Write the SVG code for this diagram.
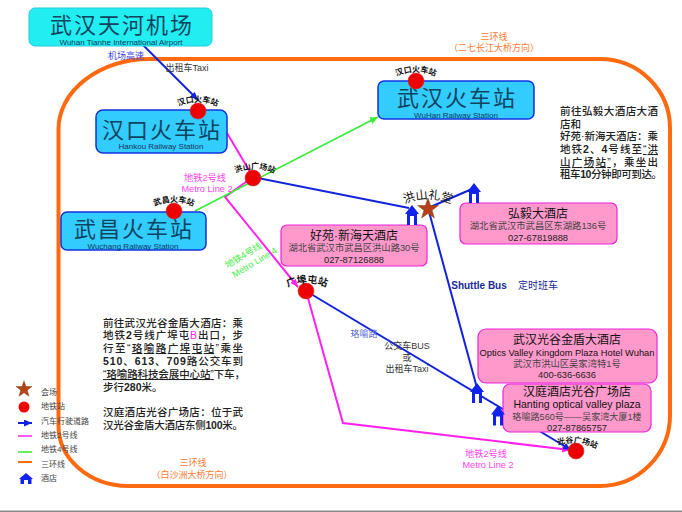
<svg xmlns="http://www.w3.org/2000/svg" width="682" height="512" viewBox="0 0 682 512">
<style>
text{font-family:"Liberation Sans","Noto Sans CJK SC",sans-serif;text-anchor:middle}
.t{font-size:22px;letter-spacing:2px;fill:#0d4560}
.e{font-size:8px;fill:#12395a}
.hd{font-size:12px;fill:#111}
.s{font-size:9.300px;fill:#444}
.ph{font-size:9.300px;fill:#222}
.b{fill:#33ccff;stroke:#1133dd;stroke-width:1.500}
.p{fill:#ff99cc;stroke:#ee22dd;stroke-width:1.200}
.m{fill:#ff44ee;font-size:9.200px}
.o{fill:#ff7a30;font-size:9px}
.st{fill:#ee0000;stroke:#cc3333;stroke-width:.6}
.sl{font-size:8px;font-weight:bold;fill:#111}
.d{font-size:10.500px;font-weight:500;fill:#222;text-anchor:start}
.bd{font-weight:bold}
.u{text-decoration:underline}
.l{font-size:8px;fill:#444;text-anchor:start}
.c{font-size:9px;fill:#333}
.bl{fill:none;stroke:#1122dd;stroke-width:2}
.ma{fill:none;stroke:#ff22ee;stroke-width:2}
.gr{fill:none;stroke:#33ee33;stroke-width:1.500}
</style>
<defs>
<marker id="ab" markerUnits="userSpaceOnUse" markerWidth="9" markerHeight="8" refX="8" refY="3.500" orient="auto"><path d="M0,0L8,3.500L0,7z" fill="#1122dd"/></marker>
<marker id="ag" markerUnits="userSpaceOnUse" markerWidth="9" markerHeight="8" refX="8" refY="3.500" orient="auto"><path d="M0,0L8,3.500L0,7z" fill="#33ee33"/></marker>
<marker id="am" markerUnits="userSpaceOnUse" markerWidth="9" markerHeight="8" refX="8" refY="3.500" orient="auto"><path d="M0,0L8,3.500L0,7z" fill="#ff22ee"/></marker>
<symbol id="house" viewBox="0 0 14 20" overflow="visible"><rect x="4" y="10" width="6" height="10" fill="#fff"/><path d="M7,0L14,9H12V20H9V11H5V20H2V9H0z" fill="#1122ee"/></symbol>
<path id="arc" d="M-21,-4Q0,-14 21,-4"/>
<path id="arc2" d="M-26,-3Q0,-15 26,-3"/>
<path id="arc3" d="M-22,-5Q0,-13 22,-1"/>
</defs>
<rect x="0" y="510.500" width="682" height="1.500" fill="#888"/>
<g id="ring3"><path d="M58.500,129A92,70 0 0 1 150,59H600A70,69 0 0 1 670,128V415A70,71 0 0 1 600,486H128A70,60 0 0 1 58.500,426Z" fill="none" stroke="#ff6a10" stroke-width="4"/></g>
<g id="connectors">
<path class="bl" d="M141,43L198,100" marker-end="url(#ab)"/>
<path class="ma" d="M227,133L253,177"/>
<path class="ma" d="M253,177L225,197L298,287" marker-end="url(#am)"/>
<path class="ma" d="M306,291L343,423L570,450" marker-end="url(#am)"/>
<path class="gr" d="M195,211L378,117" marker-end="url(#ag)"/>
<path class="bl" d="M253,177L409,208"/>
<path class="bl" d="M428,208L472,189"/>
<path class="bl" d="M428,208L477,388"/>
<path class="bl" d="M306,291L571,450" marker-end="url(#ab)"/>
</g>
<g id="airport"><rect x="29" y="8" width="183" height="38" rx="6" fill="#22eef2" stroke="#22ccdd"/><text class="t" x="122" y="33">武汉天河机场</text><text class="e" x="121" y="45">Wuhan Tianhe International Airport</text></g>
<g id="hankou"><rect class="b" x="96" y="110" width="131" height="43" rx="7"/><text class="t" x="162" y="138">汉口火车站</text><text class="e" x="161" y="149">Hankou Railway Station</text><circle class="st" cx="198" cy="111" r="8"/><text class="sl" transform="translate(198 111)"><textPath href="#arc" startOffset="50%">汉口火车站</textPath></text></g>
<g id="wuchang"><rect class="b" x="61" y="212" width="145" height="38" rx="6"/><text class="t" x="134" y="237">武昌火车站</text><text class="e" x="133" y="249">Wuchang Railway Station</text><circle class="st" cx="174" cy="211" r="8"/><text class="sl" transform="translate(174 211)"><textPath href="#arc" startOffset="50%">武昌火车站</textPath></text></g>
<g id="wuhan"><rect class="b" x="378" y="81" width="156" height="38" rx="6"/><text class="t" x="457" y="106">武汉火车站</text><text class="e" x="456" y="118">WuHan Railway Station</text><circle class="st" cx="416" cy="81" r="8"/><text class="sl" transform="translate(416 81)"><textPath href="#arc" startOffset="50%">汉口火车站</textPath></text></g>
<g id="hongshan-st"><circle class="st" cx="253" cy="178" r="8"/><text class="sl" transform="translate(255 178)"><textPath href="#arc" startOffset="50%">洪山广场站</textPath></text></g>
<g id="guangbu-st"><circle class="st" cx="306" cy="291" r="8"/><text class="sl" font-size="10" style="font-size:10px" transform="translate(307 292)"><textPath href="#arc" startOffset="50%">广埠屯站</textPath></text></g>
<g id="guanggu-st"><circle class="st" cx="576" cy="451" r="8"/><text class="sl" transform="translate(577 451)"><textPath href="#arc3" startOffset="50%">光谷广场站</textPath></text></g>
<g id="venue"><path d="M428,198l2.600,7.500h7.800l-6.300,4.800 2.300,7.700-6.400-4.600-6.400,4.600 2.300-7.700-6.300-4.800h7.800z" fill="#b5401a" stroke="#7a4a10" stroke-width=".5"/><text style="font-size:12px" fill="#111" transform="translate(428 208)"><textPath href="#arc2" startOffset="50%">洪山礼堂</textPath></text></g>
<g id="haoyuan"><rect class="p" x="281" y="225" width="146" height="41" rx="6"/><text class="hd" x="354" y="240">好苑·新海天酒店</text><text class="s" x="354" y="251">湖北省武汉市武昌区洪山路30号</text><text class="ph" x="354" y="263">027-87126888</text></g>
<g id="hongyi"><rect class="p" x="460" y="203" width="157" height="41" rx="6"/><text class="hd" x="538" y="218">弘毅大酒店</text><text class="s" x="538" y="229">湖北省武汉市武昌区东湖路136号</text><text class="ph" x="538" y="241">027-67819888</text></g>
<g id="kingdom"><rect class="p" x="478" y="329" width="179" height="54" rx="8"/><text class="hd" x="567" y="344">武汉光谷金盾大酒店</text><text x="567" y="355.500" style="font-size:9.300px" fill="#111">Optics Valley Kingdom Plaza Hotel Wuhan</text><text class="s" x="567" y="367">武汉市洪山区吴家湾特1号</text><text class="ph" x="567" y="378">400-636-6636</text></g>
<g id="hanting"><rect class="p" x="503" y="384" width="148" height="48" rx="7"/><text class="hd" x="577" y="396">汉庭酒店光谷广场店</text><text x="577" y="408" style="font-size:10.500px" fill="#111">Hanting optical valley plaza</text><text class="s" style="font-size:9.100px" x="577" y="419.500">珞喻路560号——吴家湾大厦1楼</text><text class="ph" x="577" y="431">027-87865757</text></g>
<g id="h1"><use href="#house" x="405" y="205" width="14" height="20"/></g>
<g id="h2"><use href="#house" x="467" y="183" width="14" height="20"/></g>
<g id="h3"><use href="#house" x="470" y="383" width="14" height="20"/></g>
<g id="h4"><use href="#house" x="491" y="405" width="14" height="21"/></g>
<g id="labels">
<text x="126" y="59" font-size="9" fill="#4444dd">机场高速</text>
<text class="c" x="187" y="71">出租车Taxi</text>
<text class="m" x="205" y="181">地铁2号线</text><text class="m" x="207" y="192">Metro Line 2</text>
<text x="245" y="258" font-size="9" fill="#44ee44" transform="rotate(-31 245 258)">地铁4号线</text><text x="256" y="265" font-size="9" fill="#44ee44" transform="rotate(-31 256 265)">Metro Line 4</text>
<text x="364" y="337" font-size="9" fill="#5566dd">珞喻路</text>
<text class="c" x="407" y="349">公交车BUS</text><text class="c" x="407" y="361">或</text><text class="c" x="407" y="372">出租车Taxi</text>
<text x="479" y="289" font-size="10" font-weight="bold" fill="#1a2a99">Shuttle Bus</text><text x="538" y="289" font-size="10" fill="#1a2a99">定时班车</text>
<text class="m" x="486" y="457">地铁2号线</text><text class="m" x="488" y="468">Metro Line 2</text>
<text class="o" x="494" y="40">三环线</text><text class="o" x="494" y="51">（二七长江大桥方向）</text>
<text class="o" x="193" y="466">三环线</text><text class="o" x="192" y="478">（白沙洲大桥方向）</text>
</g>
<g id="note-right">
<text class="d" x="560" y="115" textLength="98">前往弘毅大酒店大酒</text><text class="d" x="560" y="128">店和</text><text class="d" x="560" y="140" textLength="98">好苑·新海天酒店：乘</text><text class="d" x="560" y="153" textLength="98">地铁<tspan class="bd">2</tspan>、<tspan class="bd">4</tspan>号线至<tspan class="u">“洪</tspan></text><text class="d" x="560" y="166" textLength="98"><tspan class="u">山广场站”</tspan>，乘坐出</text><text class="d" x="560" y="178" textLength="102">租车<tspan class="bd">10</tspan>分钟即可到达。</text>
</g>
<g id="note-left">
<text class="d" x="103" y="327" textLength="140">前往武汉光谷金盾大酒店：乘</text><text class="d" x="103" y="339" textLength="140">地铁<tspan class="bd">2</tspan>号线广埠屯<tspan fill="#ff22ee">B</tspan>出口，步</text><text class="d" x="103" y="352" textLength="140">行至“<tspan class="u">珞喻路广埠屯站</tspan>”乘坐</text><text class="d" x="103" y="365" textLength="140"><tspan class="bd">510</tspan>、<tspan class="bd">613</tspan>、<tspan class="bd">709</tspan>路公交车到</text><text class="d" x="103" y="378" textLength="142"><tspan class="u">“珞喻路科技会展中心站”</tspan>下车，</text><text class="d" x="103" y="391">步行<tspan class="bd">280</tspan>米。</text>
<text class="d" x="103" y="416" textLength="140">汉庭酒店光谷广场店：位于武</text><text class="d" x="103" y="429" textLength="140">汉光谷金盾大酒店东侧<tspan class="bd">100</tspan>米。</text>
</g>
<g id="legend">
<path d="M24,381l2,5.500h6l-4.800,3.700 1.800,6-5-3.500-5,3.500 1.800-6-4.800-3.700h6z" fill="#b5401a" stroke="#7a4a10" stroke-width=".5"/>
<circle cx="24" cy="407" r="5.500" fill="#ee0000"/>
<path class="bl" d="M18,423H32" marker-end="url(#ab)"/>
<path d="M18,436H32" stroke="#ff22ee" stroke-width="1.500"/>
<path d="M18,452H32" stroke="#33ee33" stroke-width="1.500"/>
<path d="M18,462H32" stroke="#ff6a10" stroke-width="2"/>
<path d="M26,473L33,479H31.500V484H28V480H24V484H20.500V479H19z" fill="#1122ee"/>
<text class="l" x="41" y="395">会场</text><text class="l" x="41" y="409">地铁站</text><text class="l" x="41" y="424">汽车行驶道路</text><text class="l" x="41" y="438">地铁2号线</text><text class="l" x="41" y="452">地铁4号线</text><text class="l" x="41" y="467">三环线</text><text class="l" x="41" y="481">酒店</text>
</g>
</svg>
